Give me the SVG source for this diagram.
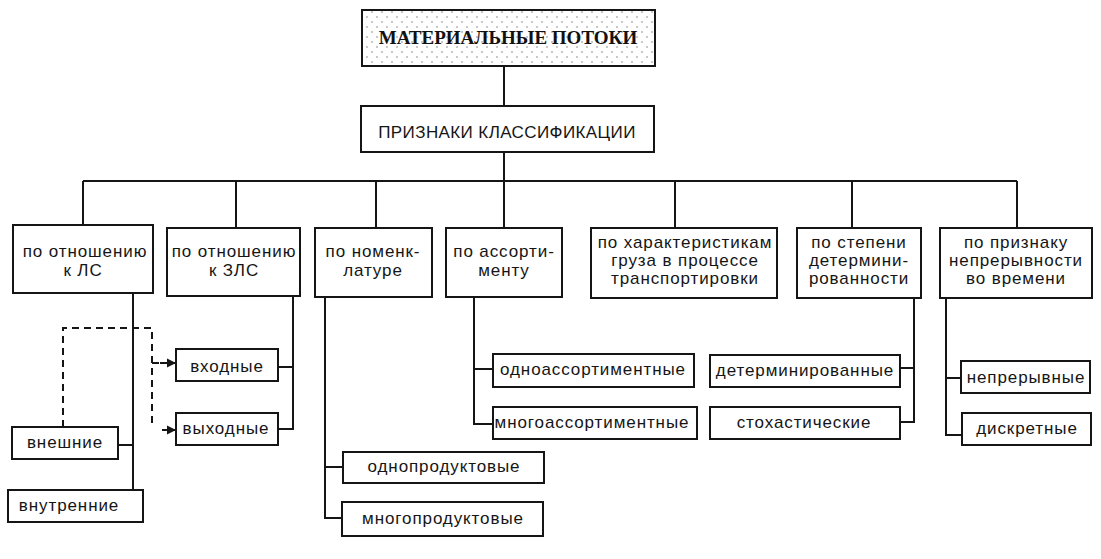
<svg xmlns="http://www.w3.org/2000/svg" width="1101" height="559" viewBox="0 0 1101 559">
<defs>
<style>
.box{fill:#fff;stroke:#151515;stroke-width:2}
.t{font-family:"Liberation Sans",Arial,sans-serif;font-size:17px;fill:#151515;text-anchor:middle;letter-spacing:0.9px}
.h{font-family:"Liberation Serif","Times New Roman",serif;font-size:19px;font-weight:bold;fill:#111;text-anchor:middle}
.c{fill:none;stroke:#151515;stroke-width:2}
.d{fill:none;stroke:#151515;stroke-width:2;stroke-dasharray:7 5}
</style>
<pattern id="dots" width="10" height="10" patternUnits="userSpaceOnUse">
<rect width="10" height="10" fill="#fff"/>
<circle cx="2" cy="2" r="0.75" fill="#777"/>
<circle cx="7" cy="7" r="0.75" fill="#777"/>
</pattern>
<marker id="ah" markerWidth="10" markerHeight="10" refX="9" refY="5" orient="auto" markerUnits="userSpaceOnUse">
<path d="M0,0.5 L9,5 L0,9.5 z" fill="#151515"/>
</marker>
</defs>
<rect width="1101" height="559" fill="#fff"/>

<g id="connectors">
<path class="c" d="M504 66 V106 M504 152 V181 M83 181 H1017 M83 181 V225 M236 181 V228 M376 181 V228 M504 181 V228 M675 181 V228 M852 181 V228 M1017 181 V228"/>
<path class="c" d="M133 293 V490 M118 445 H133"/>
<path class="c" d="M293 296 V429 H278 M278 367 H293"/>
<path class="c" d="M325 297 V518 H342 M325 467 H343"/>
<path class="c" d="M474 297 V424 H493 M474 369 H493"/>
<path class="c" d="M914 298 V422 H900 M900 368 H914"/>
<path class="c" d="M946 298 V435 H962 M946 378 H961"/>
<path class="d" d="M63 427 V328 H152 V428"/>
<path class="d" d="M152 363 H160" />
<path class="c" d="M160 363 H176" marker-end="url(#ah)"/>
<path class="c" d="M162 430 H176" marker-end="url(#ah)"/>
</g>

<g id="n-root">
<rect x="362" y="10" width="293" height="56" fill="url(#dots)" stroke="#151515" stroke-width="2"/>
<text class="h" x="508" y="44">МАТЕРИАЛЬНЫЕ ПОТОКИ</text>
</g>
<g id="n-criteria">
<rect class="box" x="361" y="106" width="293" height="46"/>
<text class="t" x="507" y="138" style="font-size:17px;letter-spacing:0.4px">ПРИЗНАКИ КЛАССИФИКАЦИИ</text>
</g>

<g id="n-ls">
<rect class="box" x="13" y="225" width="140" height="68"/>
<text class="t" x="85" y="257">по отношению</text>
<text class="t" x="83" y="276">к ЛС</text>
</g>
<g id="n-zls">
<rect class="box" x="167" y="228" width="133" height="68"/>
<text class="t" x="234" y="257">по отношению</text>
<text class="t" x="234" y="276">к ЗЛС</text>
</g>
<g id="n-nom">
<rect class="box" x="315" y="228" width="117" height="69"/>
<text class="t" x="373" y="257">по номенк-</text>
<text class="t" x="373" y="276">латуре</text>
</g>
<g id="n-ass">
<rect class="box" x="446" y="228" width="116" height="69"/>
<text class="t" x="504" y="257">по ассорти-</text>
<text class="t" x="504" y="276">менту</text>
</g>
<g id="n-cargo">
<rect class="box" x="591" y="228" width="186" height="70"/>
<text class="t" x="685" y="248">по характеристикам</text>
<text class="t" x="685" y="266">груза в процессе</text>
<text class="t" x="685" y="284">транспортировки</text>
</g>
<g id="n-det">
<rect class="box" x="797" y="228" width="124" height="70"/>
<text class="t" x="859" y="248">по степени</text>
<text class="t" x="859" y="266">детермини-</text>
<text class="t" x="859" y="284">рованности</text>
</g>
<g id="n-cont">
<rect class="box" x="940" y="228" width="152" height="70"/>
<text class="t" x="1016" y="248">по признаку</text>
<text class="t" x="1016" y="266">непрерывности</text>
<text class="t" x="1016" y="284">во времени</text>
</g>

<g id="n-ext">
<rect class="box" x="12" y="427" width="106" height="32"/>
<text class="t" x="65" y="448">внешние</text>
</g>
<g id="n-int">
<rect class="box" x="8" y="490" width="135" height="32"/>
<text class="t" x="69" y="511">внутренние</text>
</g>
<g id="n-in">
<rect class="box" x="176" y="349" width="102" height="32"/>
<text class="t" x="227" y="372">входные</text>
</g>
<g id="n-out">
<rect class="box" x="176" y="413" width="102" height="32"/>
<text class="t" x="226" y="434">выходные</text>
</g>
<g id="n-oneprod">
<rect class="box" x="343" y="452" width="201" height="31"/>
<text class="t" x="444" y="472">однопродуктовые</text>
</g>
<g id="n-multiprod">
<rect class="box" x="342" y="502" width="201" height="34"/>
<text class="t" x="443" y="524">многопродуктовые</text>
</g>
<g id="n-oneass">
<rect class="box" x="493" y="354" width="201" height="33"/>
<text class="t" x="593" y="375">одноассортиментные</text>
</g>
<g id="n-multiass">
<rect class="box" x="493" y="407" width="204" height="32"/>
<text class="t" x="592" y="428">многоассортиментные</text>
</g>
<g id="n-determ">
<rect class="box" x="710" y="355" width="190" height="32"/>
<text class="t" x="805" y="376">детерминированные</text>
</g>
<g id="n-stoch">
<rect class="box" x="710" y="407" width="190" height="32"/>
<text class="t" x="804" y="428">стохастические</text>
</g>
<g id="n-cont1">
<rect class="box" x="961" y="361" width="129" height="32"/>
<text class="t" x="1026" y="383">непрерывные</text>
</g>
<g id="n-disc">
<rect class="box" x="962" y="413" width="129" height="32"/>
<text class="t" x="1027" y="434">дискретные</text>
</g>
</svg>
